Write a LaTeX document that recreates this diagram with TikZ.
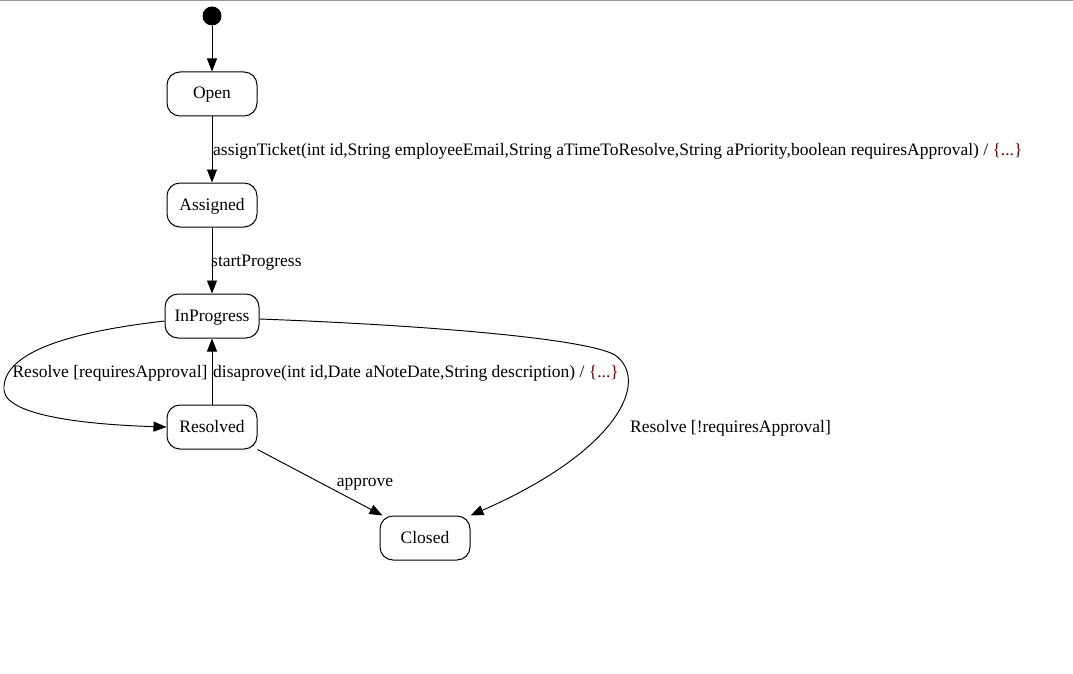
\documentclass[tikz,border=0pt]{standalone}
\usepackage{fontspec}
\setmainfont{Liberation Serif}
\usetikzlibrary{arrows.meta}
\definecolor{actcol}{RGB}{115,0,0}
\definecolor{topline}{RGB}{150,150,150}
\begin{document}
\begin{tikzpicture}[x=1pt,y=-1pt,
  state/.style={draw,rounded corners=13pt,minimum width=90pt,minimum height=44pt,font=\fontsize{17.5}{20}\selectfont,inner sep=0pt,text height=10pt,text depth=0pt,line width=1pt},
  lbl/.style={font=\fontsize{17.5}{20}\selectfont,inner sep=0pt,anchor=west},
  tr/.style={line width=0.95pt,-{Triangle[length=13pt,width=10pt]}}]
\useasboundingbox (0,0) rectangle (1073,674);
\draw[topline,line width=1pt] (0,0.5) -- (1073,0.5);
\node[circle,fill=black,minimum size=19pt,inner sep=0pt] (init) at (212,16) {};
\node[state] (open) at (212,94) {Open};
\node[state] (assigned) at (212,205) {Assigned};
\node[state,minimum width=94pt] (inprog) at (212,316) {InProgress};
\node[state] (resolved) at (212,427) {Resolved};
\node[state] (closed) at (425,538) {Closed};
\draw[tr] (init) -- (open);
\draw[tr] (open) -- (assigned);
\node[lbl] (l1) at (213,151.5) {assignTicket(int id,String employeeEmail,String aTimeToResolve,String aPriority,boolean requiresApproval) / \textcolor{actcol}{\{...\}}};
\draw[tr] (assigned) -- (inprog);
\node[lbl] (l2) at (211,262.5) {startProgress};
\draw[tr] (resolved) -- (inprog);
\node[lbl] (l3) at (213,373.5) {disaprove(int id,Date aNoteDate,String description) / \textcolor{actcol}{\{...\}}};
\draw[tr] (inprog.west|-0,321) .. controls (60,333) and (2,355) .. (4,390) .. controls (6,418) and (100,425) .. (resolved.west);
\node[lbl,anchor=center] (l4) at (110,373.5) {Resolve [requiresApproval]};
\draw[tr] (inprog.east|-0,319) .. controls (420,325) and (585,338) .. (615,355) .. controls (650,380) and (620,450) .. (closed.north east);
\node[lbl] (l5) at (630,428.5) {Resolve [!requiresApproval]};
\draw[tr] (resolved.south east) -- ([xshift=3pt]closed.north west);
\node[lbl,anchor=center] (l6) at (365,484.5) {approve};
\end{tikzpicture}
\end{document}
